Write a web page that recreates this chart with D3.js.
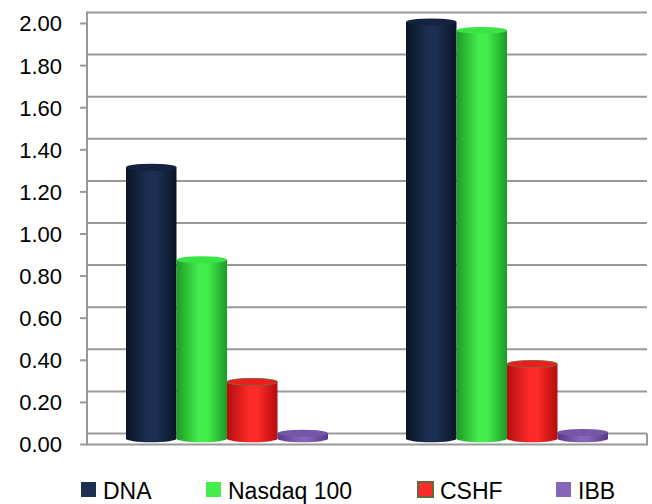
<!DOCTYPE html>
<html>
<head>
<meta charset="utf-8">
<script src="https://cdn.jsdelivr.net/npm/d3@7"></script>
<style>
  body { margin: 0; background: #fff; }
  svg text { font-family: "Liberation Sans", Arial, sans-serif; fill: #000; }
</style>
</head>
<body>
<div id="chart"></div>
<script>
// data
var categories = ["A", "B"];
var series = ["DNA", "Nasdaq 100", "CSHF", "IBB"];
var dnaValues = [1.29, 1.98];
var nasdaqValues = [0.85, 1.94];
var cshfValues = [0.27, 0.355];
var ibbValues = [0.026, 0.03];
var yTicks = [0, 0.2, 0.4, 0.6, 0.8, 1.0, 1.2, 1.4, 1.6, 1.8, 2.0];

var seriesValues = [dnaValues, nasdaqValues, cshfValues, ibbValues];
// colours: [dark edge, light centre, top]
var colors = [
  ["#0a1427", "#1d3052", "#14233f"],
  ["#1c9c26", "#44ee4c", "#3ae444"],
  ["#b50d0d", "#ff2a2a", "#ee1c1c"],
  ["#563a86", "#8666b8", "#7656a8"]
];
var legendX = [81, 206, 418, 556];

var width = 652, height = 504;
var depth = 10.5; // back wall offset of the 3d plot

var svg = d3.select("#chart").append("svg")
  .attr("width", width)
  .attr("height", height);

var defs = svg.append("defs");
colors.forEach(function (c, i) {
  var g = defs.append("linearGradient")
    .attr("id", "cyl" + i)
    .attr("x1", "0%").attr("x2", "100%").attr("y1", "0%").attr("y2", "0%");
  g.append("stop").attr("offset", "0%").attr("stop-color", c[0]);
  g.append("stop").attr("offset", "45%").attr("stop-color", c[1]);
  g.append("stop").attr("offset", "60%").attr("stop-color", c[1]);
  g.append("stop").attr("offset", "100%").attr("stop-color", c[0]);
});

// scales
var y = d3.scaleLinear().domain([0, 2]).range([444, 23]);
var x0 = d3.scaleBand().domain(categories).range([87, 647]).padding(0);
var x1 = d3.scaleBand().domain(series).range([0, 202]);
var groupOffset = (x0.bandwidth() - 202) / 2;

// gridlines on the back wall
svg.append("g").selectAll("line")
  .data(yTicks)
  .enter()
  .append("line")
  .attr("x1", 87)
  .attr("x2", 647)
  .attr("y1", function (d) { return y(d) - depth; })
  .attr("y2", function (d) { return y(d) - depth; })
  .attr("stroke", "#999")
  .attr("stroke-width", 2);

// floor
svg.append("line")
  .attr("x1", 87).attr("x2", 647)
  .attr("y1", y(0) + 0.5).attr("y2", y(0) + 0.5)
  .attr("stroke", "#999").attr("stroke-width", 2);
svg.append("line")
  .attr("x1", 647).attr("x2", 647)
  .attr("y1", y(0) - depth).attr("y2", y(0) + 1.5)
  .attr("stroke", "#999").attr("stroke-width", 2);

// y axis
var yAxis = d3.axisLeft(y)
  .tickValues(yTicks)
  .tickFormat(d3.format(".2f"))
  .tickSize(7)
  .tickPadding(18);

var axisG = svg.append("g")
  .attr("transform", "translate(87,0)")
  .call(yAxis);
axisG.select(".domain").remove();
axisG.selectAll(".tick line").attr("stroke", "#999").attr("stroke-width", 2);
axisG.selectAll(".tick text")
  .style("font-size", "22px")
  .attr("fill", "#000")
  .attr("dy", "0.36em");
svg.append("line")
  .attr("x1", 87).attr("x2", 87)
  .attr("y1", y(2) - depth - 1).attr("y2", y(0) + 1.5)
  .attr("stroke", "#999").attr("stroke-width", 2);

// cylinders
var ry = 3.5;
var bars = [];
categories.forEach(function (cat, ci) {
  series.forEach(function (s, si) {
    bars.push({ cat: cat, s: s, si: si, value: seriesValues[si][ci] });
  });
});

var barG = svg.append("g").selectAll("g")
  .data(bars)
  .enter()
  .append("g");

function barLeft(d) { return x0(d.cat) + groupOffset + x1(d.s); }

barG.append("path")
  .attr("d", function (d) {
    var xl = barLeft(d), xr = xl + x1.bandwidth();
    var rx = x1.bandwidth() / 2;
    var yt = y(d.value) - depth / 2;
    var yb = y(0) - depth / 2;
    return "M" + xl + "," + yt + "L" + xl + "," + yb +
      "A" + rx + "," + ry + " 0 0 0 " + xr + "," + yb +
      "L" + xr + "," + yt + "Z";
  })
  .attr("fill", function (d) { return "url(#cyl" + d.si + ")"; });

barG.append("ellipse")
  .attr("cx", function (d) { return barLeft(d) + x1.bandwidth() / 2; })
  .attr("cy", function (d) { return y(d.value) - depth / 2; })
  .attr("rx", x1.bandwidth() / 2)
  .attr("ry", ry)
  .attr("fill", function (d) { return colors[d.si][2]; })
  .attr("stroke", function (d) { return d.si === 2 ? "#7a6a3a" : "none"; })
  .attr("stroke-width", 1);

// legend
var legend = svg.append("g").selectAll("g")
  .data(series)
  .enter()
  .append("g")
  .attr("transform", function (d, i) { return "translate(" + legendX[i] + ",482)"; });

legend.append("rect")
  .attr("width", 15)
  .attr("height", 15)
  .attr("fill", function (d, i) { return colors[i][1]; })
  .attr("stroke", function (d, i) { return i === 2 ? "#5e6b3a" : "none"; })
  .attr("stroke-width", 2);

legend.append("text")
  .attr("x", 22)
  .attr("y", 17)
  .style("font-size", "23px")
  .text(function (d) { return d; });
</script>
</body>
</html>
